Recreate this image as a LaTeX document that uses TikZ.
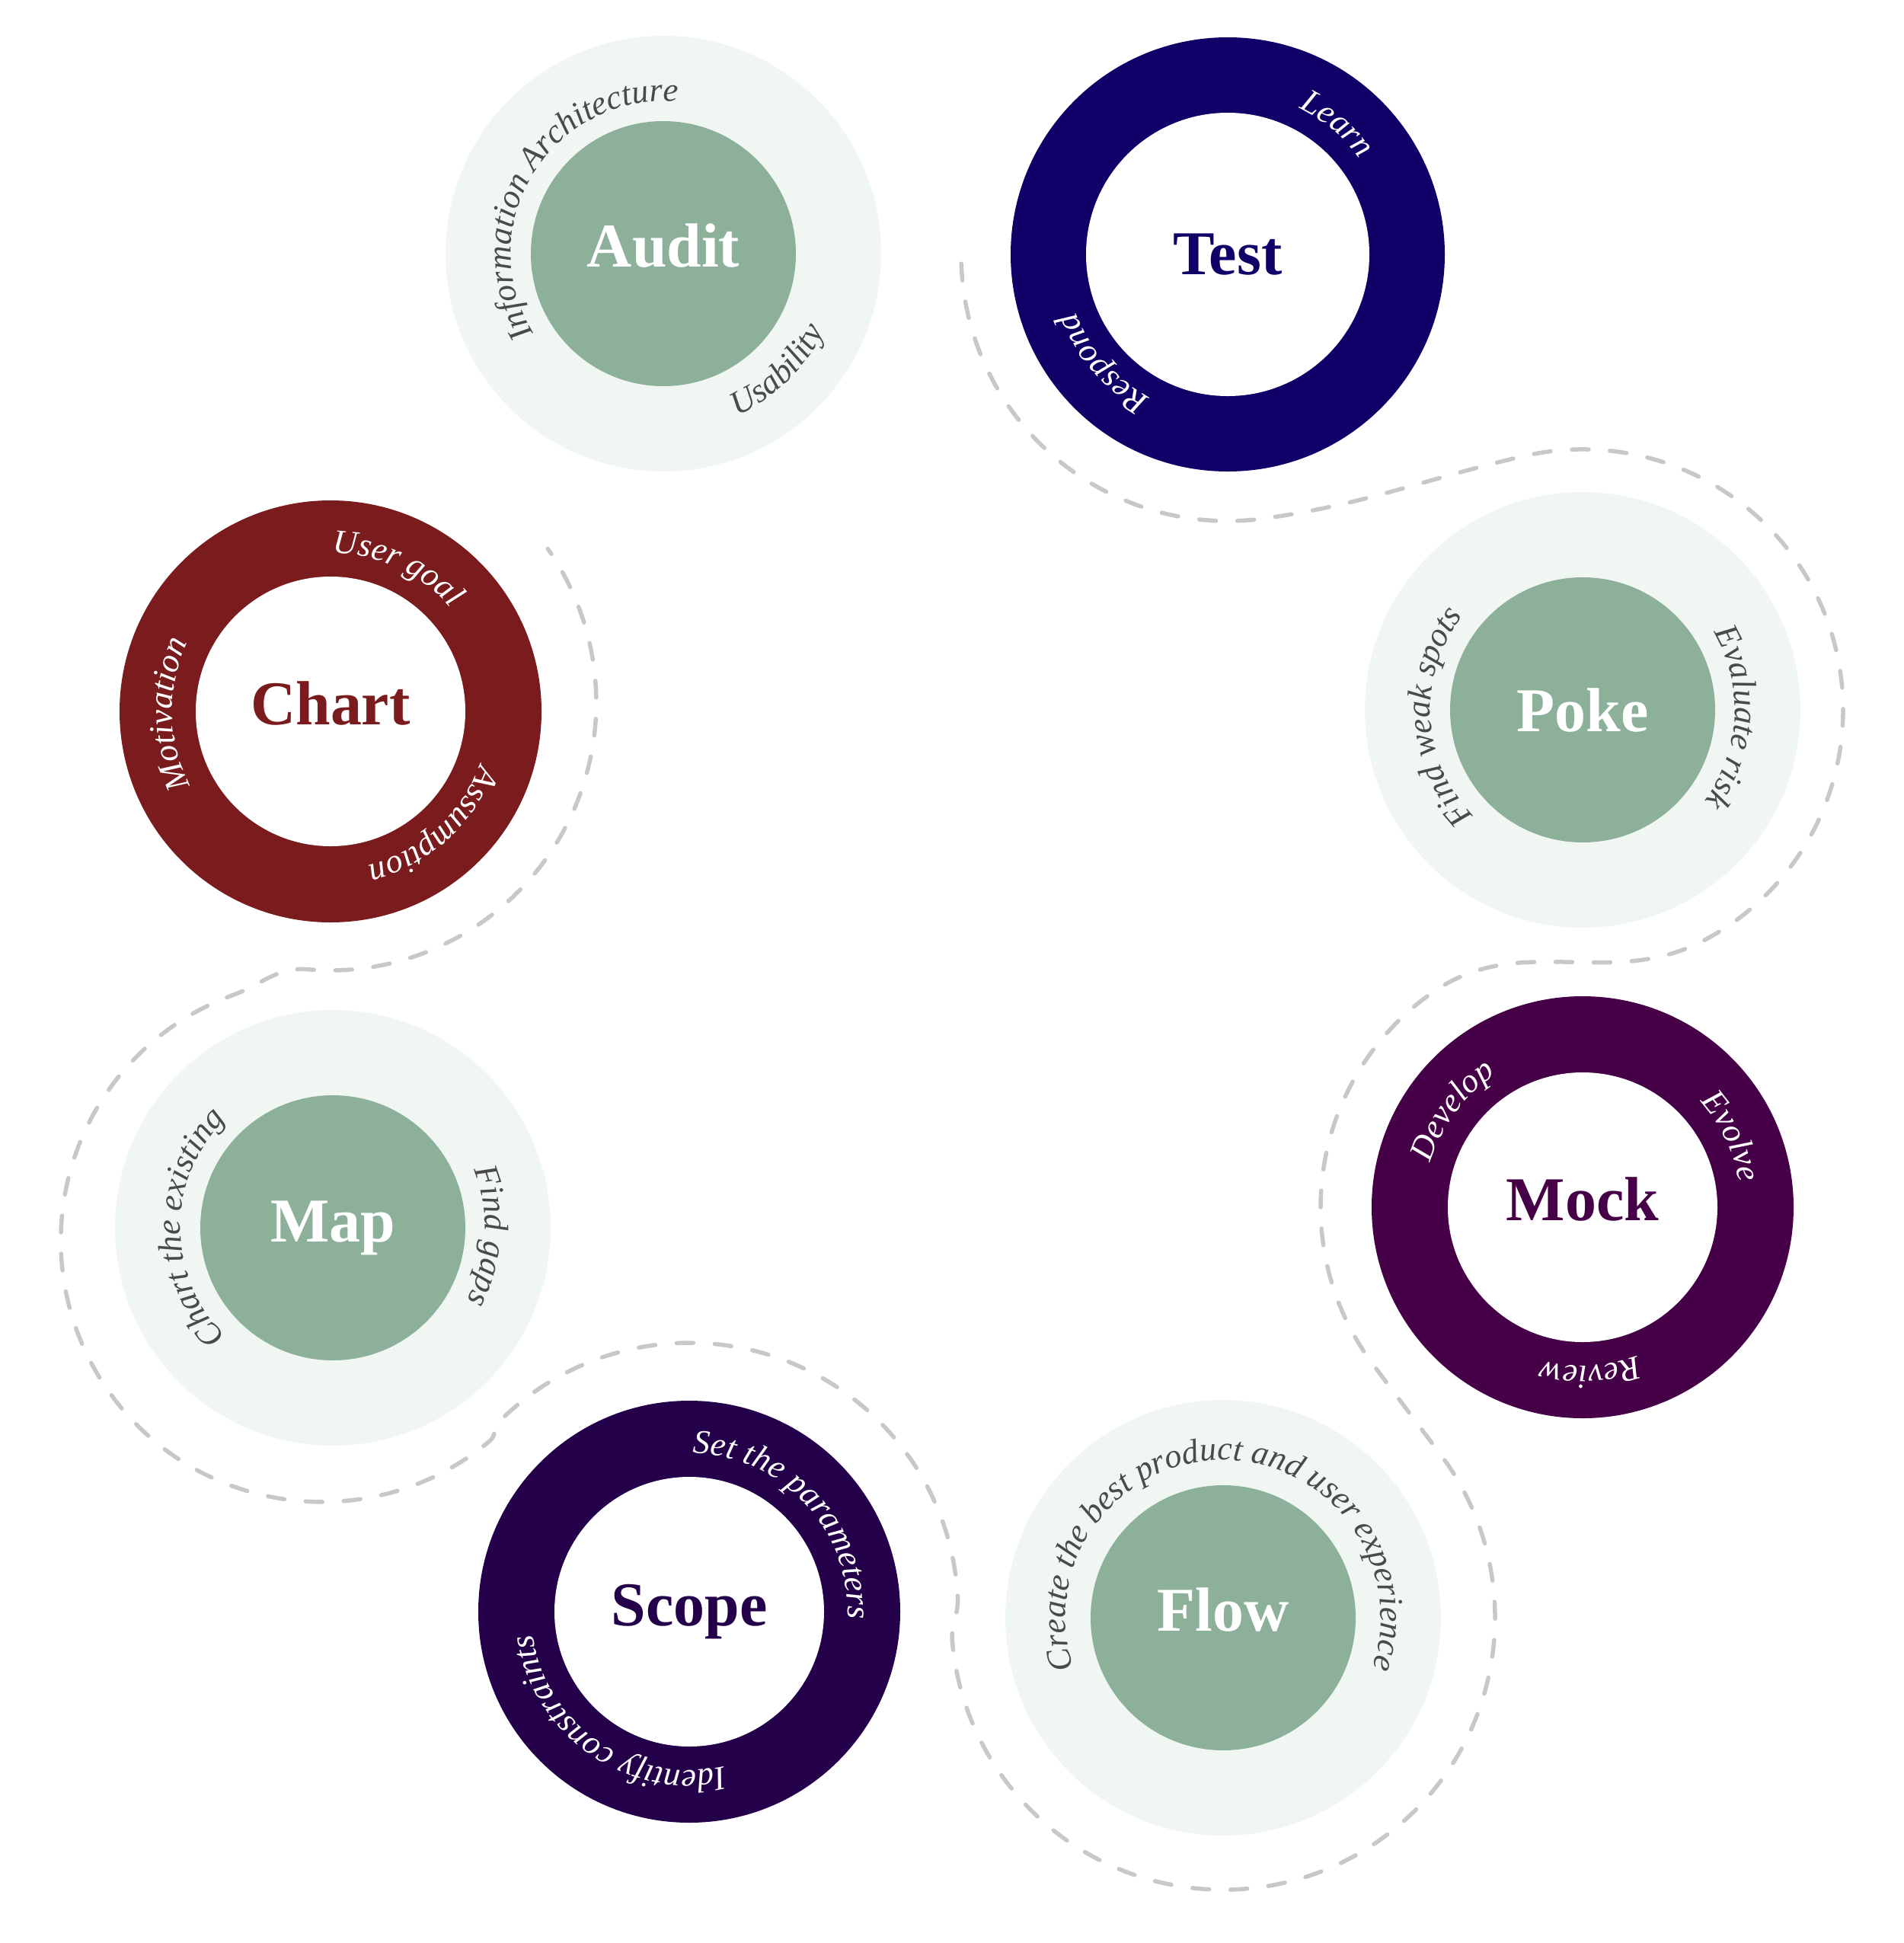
\documentclass[tikz,border=0pt]{standalone}
\usepackage{fontspec}
\setmainfont{Liberation Serif}
\usetikzlibrary{calc,decorations.text}

\definecolor{sage}{HTML}{8DB09B}
\definecolor{mist}{HTML}{F0F6F2}
\definecolor{inkgray}{HTML}{4A4A4A}
\definecolor{testblue}{HTML}{100068}
\definecolor{chartred}{HTML}{7A1C1D}
\definecolor{mockplum}{HTML}{460048}
\definecolor{scopeviolet}{HTML}{24004A}
\definecolor{trailgray}{HTML}{C8C8C8}

\begin{document}
\begin{tikzpicture}[
  halo/.style={circle, inner sep=0pt, minimum size=5.72cm, fill=mist},
  core/.style={circle, inner sep=0pt, minimum size=3.48cm, fill=sage, text=white, font=\fontsize{23.3}{28}\selectfont\bfseries},
  band/.style={circle, inner sep=0pt, minimum size=5.54cm, fill=#1},
  hollow/.style={circle, inner sep=0pt, minimum size=3.54cm, fill=white, text=#1, font=\fontsize{23.3}{28}\selectfont\bfseries},
  lift/.style={text height=9.7pt, text depth=0pt},
  gtext/.style={decorate, decoration={text along path, text align=center, text={|\fontsize{12.6}{15}\selectfont\itshape\color{inkgray}|#1}}},
  rtext/.style={decorate, decoration={text along path, text align=center, text={|\fontsize{12.6}{15}\selectfont\itshape\color{white}|#1}}},
  trail/.style={draw=trailgray, line width=1.56pt, line cap=round, dash pattern=on 6.26pt off 7.97pt}]
\useasboundingbox (0,0) rectangle (25,-25.51);

% green stages
\node[halo] (audit) at (8.71,-3.33) {};
\node[core, lift] (audit-c) at (audit) {Audit};
\node[halo] (poke) at (20.78,-9.32) {};
\node[core] (poke-c) at (poke) {Poke};
\node[halo] (map) at (4.37,-16.12) {};
\node[core] (map-c) at (map) {Map};
\node[halo] (flow) at (16.06,-21.24) {};
\node[core, lift] (flow-c) at (flow) {Flow};

% ring stages
\node[band=testblue, minimum size=5.7cm] (test) at (16.12,-3.34) {};
\node[hollow=testblue, minimum size=3.72cm] (test-c) at (test) {Test};
\node[band=chartred] (chart) at (4.34,-9.34) {};
\node[hollow=chartred, lift] (chart-c) at (chart) {Chart};
\node[band=mockplum] (mock) at (20.78,-15.85) {};
\node[hollow=mockplum, lift] (mock-c) at (mock) {Mock};
\node[band=scopeviolet] (scope) at (9.05,-21.16) {};
\node[hollow=scopeviolet] (scope-c) at (scope) {Scope};

% winding trail
\draw[trail]
  ($(test)+(182:3.5)$) arc[start angle=182, end angle=278, radius=3.5]
  to[out=8, in=193] ($(poke)+(103:3.42)$) arc[start angle=103, end angle=-62, radius=3.42]
  to[out=208, in=35] ($(mock)+(125:3.44)$) arc[start angle=125, end angle=217, radius=3.44]
  -- ($(flow)+(37:3.57)$) arc[start angle=37, end angle=-175, radius=3.57]
  to[out=95, in=273] ($(scope)+(3:3.53)$) arc[start angle=3, end angle=135, radius=3.53]
  to[out=225, in=40] ($(map)+(-130:0.22)+(-50:3.43)$) arc[start angle=-50, end angle=-250, radius=3.43]
  to[out=20, in=175] ($(chart)+(-95:3.4)$) arc[start angle=-95, end angle=-75, radius=3.4]
  arc[start angle=-75, end angle=35, radius=3.52];

% curved labels
\path[gtext={Information Architecture}] ($(audit)+(238:2)$) arc[start angle=238, end angle=58, radius=2];
\path[gtext={Usability}] ($(audit)+(-105:2.34)$) arc[start angle=-105, end angle=14, radius=2.34];
\path[rtext={Learn}] ($(test)+(140:2.14)$) arc[start angle=140, end angle=-40, radius=2.14];
\path[rtext={Respond}] ($(test)+(311:2.14)$) arc[start angle=311, end angle=131, radius=2.14];
\path[rtext={User goal}] ($(chart)+(155:2.08)$) arc[start angle=155, end angle=-25, radius=2.08];
\path[rtext={Assumption}] ($(chart)+(42:2.08)$) arc[start angle=42, end angle=-138, radius=2.08];
\path[rtext={Motivation}] ($(chart)+(271:2.08)$) arc[start angle=271, end angle=91, radius=2.08];
\path[gtext={Find weak spots}] ($(poke)+(273:2)$) arc[start angle=273, end angle=93, radius=2];
\path[gtext={Evaluate risk}] ($(poke)+(87:2)$) arc[start angle=87, end angle=-93, radius=2];
\path[gtext={Chart the existing}] ($(map)+(270:2)$) arc[start angle=270, end angle=90, radius=2];
\path[gtext={Find gaps}] ($(map)+(87:2)$) arc[start angle=87, end angle=-93, radius=2];
\path[rtext={Develop}] ($(mock)+(233.5:2.08)$) arc[start angle=233.5, end angle=53.5, radius=2.08];
\path[rtext={Evolve}] ($(mock)+(115.5:2.08)$) arc[start angle=115.5, end angle=-64.5, radius=2.08];
\path[rtext={Review}] ($(mock)+(2.5:2.08)$) arc[start angle=2.5, end angle=-177.5, radius=2.08];
\path[rtext={Set the parameters}] ($(scope)+(133:2.08)$) arc[start angle=133, end angle=-47, radius=2.08];
\path[rtext={Identify constraints}] ($(scope)+(-34.5:2.08)$) arc[start angle=-34.5, end angle=-214.5, radius=2.08];
\path[gtext={Create the best product and user experience}] ($(flow)+(210:2.07)$) arc[start angle=210, end angle=-30, radius=2.07];
\end{tikzpicture}
\end{document}
